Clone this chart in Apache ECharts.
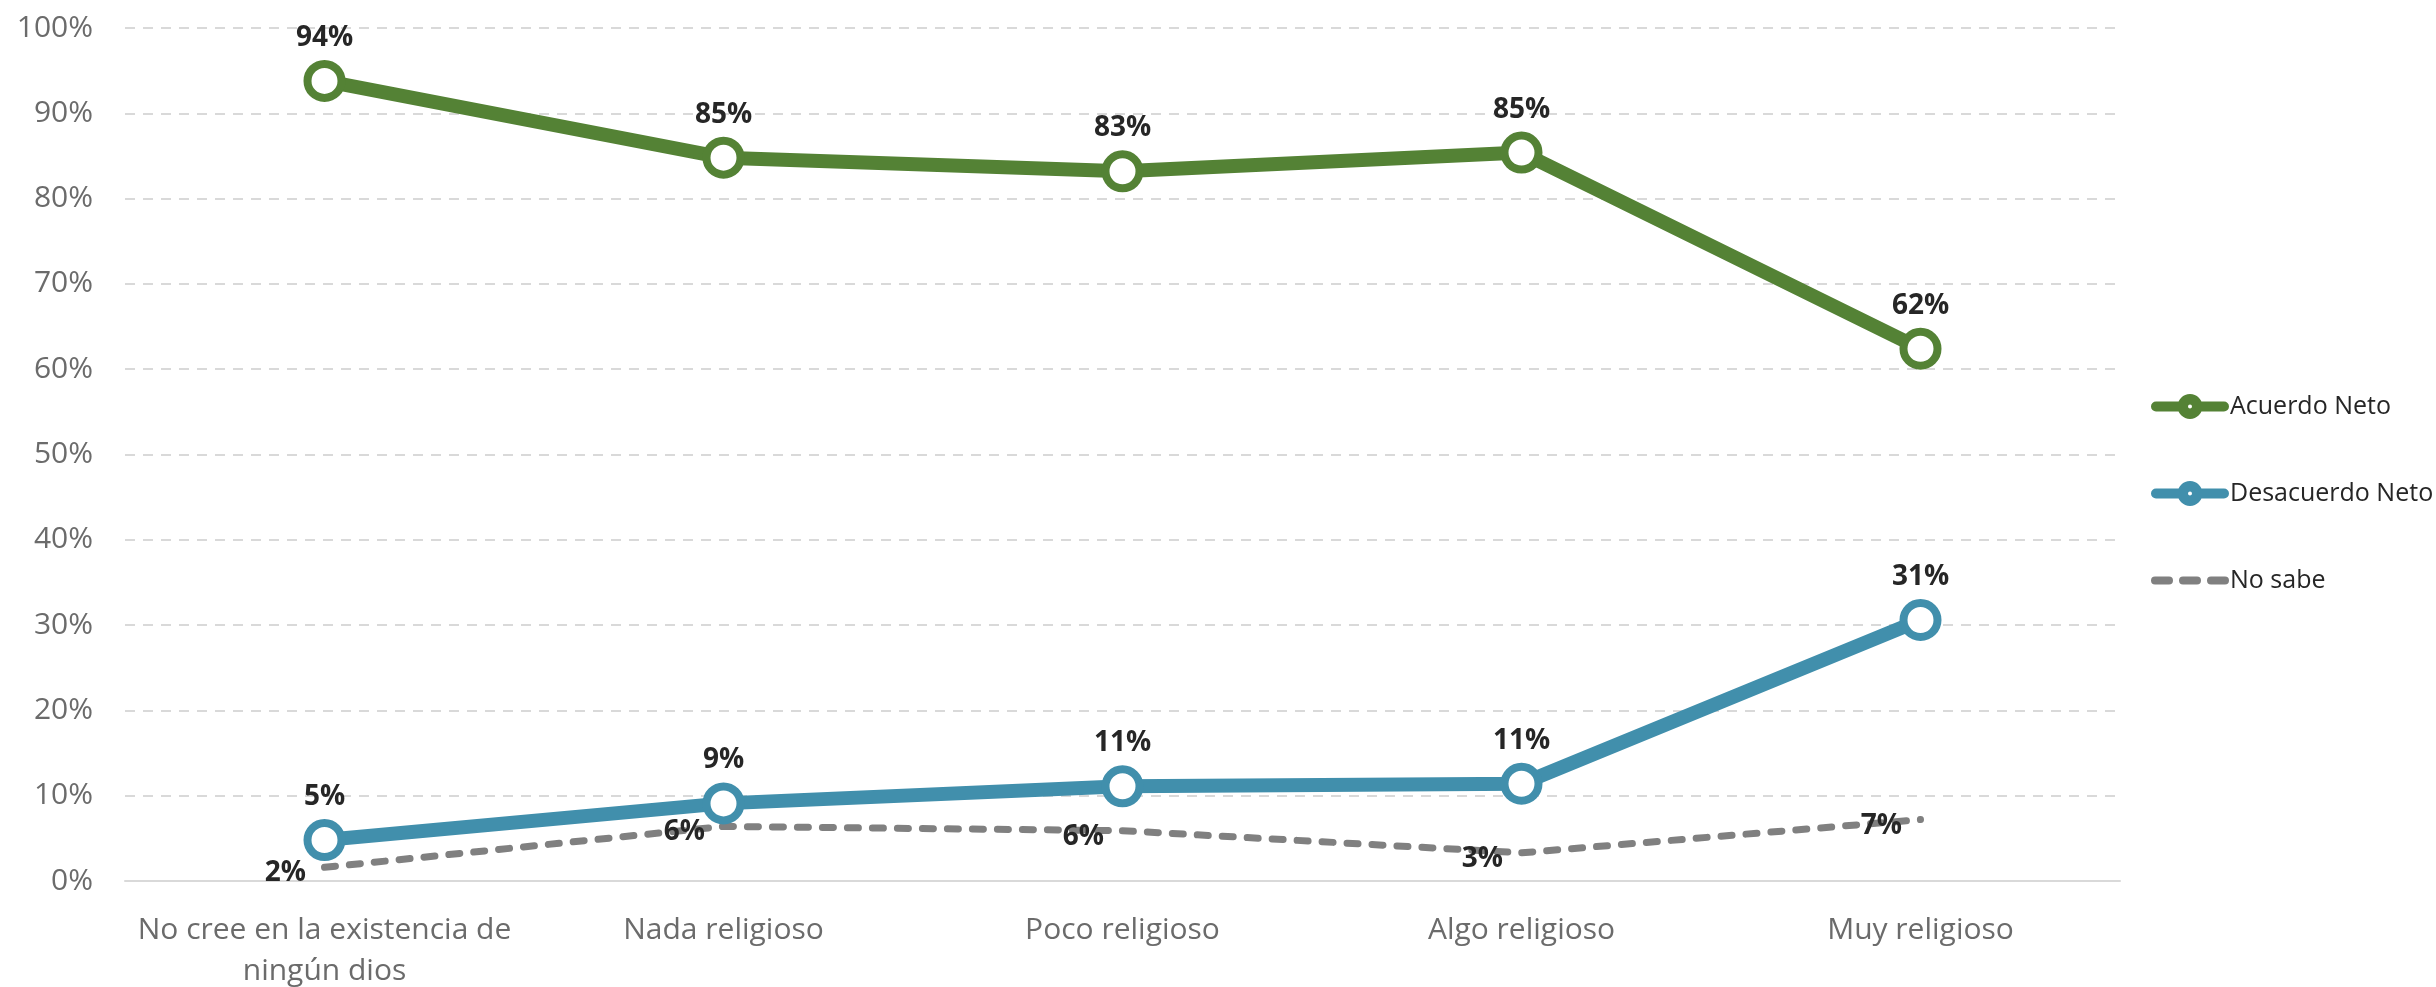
<!DOCTYPE html>
<html>
<head>
<meta charset="utf-8">
<script src="https://cdn.jsdelivr.net/npm/echarts@6/dist/echarts.min.js"></script>
<style>
html,body{margin:0;padding:0;background:#fff;}
#chart{width:2436px;height:987px;}
</style>
</head>
<body>
<div id="chart"></div>
<script>
const categories = ['No cree en la existencia de\nningún dios', 'Nada religioso', 'Poco religioso', 'Algo religioso', 'Muy religioso'];
const acuerdoNeto = [93.8, 84.8, 83.2, 85.4, 62.4];
const desacuerdoNeto = [4.8, 9.1, 11.1, 11.4, 30.6];
const noSabe = [1.6, 6.4, 5.9, 3.3, 7.2];
const yTicks = { min: 0, max: 100, interval: 10 };

const FONT = '"Open Sans", "Noto Sans", sans-serif';
const GREEN = '#548235';
const BLUE = '#418FAC';
const GREY = '#808080';

// legend icons (line with ringed marker; three dashes)
const ICON_LINE_MARKER = 'path://' +
  'M5,7.5 L30,7.5 L30,17.5 L5,17.5 A5,5 0 0,1 5,7.5 Z ' +
  'M48,7.5 L73,7.5 A5,5 0 0,1 73,17.5 L48,17.5 Z ' +
  'M26.5,12.5 A12.5,12.5 0 1,1 51.5,12.5 A12.5,12.5 0 1,1 26.5,12.5 Z ' +
  'M37,12.5 A2,2 0 1,0 41,12.5 A2,2 0 1,0 37,12.5 Z';
const ICON_DASHES = 'path://M4,0 L18,0 A4,4 0 0,1 18,8 L4,8 A4,4 0 0,1 4,0 Z ' +
  'M32,0 L46,0 A4,4 0 0,1 46,8 L32,8 A4,4 0 0,1 32,0 Z ' +
  'M60,0 L74,0 A4,4 0 0,1 74,8 L60,8 A4,4 0 0,1 60,0 Z';

const chart = echarts.init(document.getElementById('chart'));

function mainSeries(name, data, color) {
  return {
    name: name,
    type: 'line',
    data: data,
    symbol: 'circle',
    symbolSize: 34,
    lineStyle: { color: color, width: 14 },
    itemStyle: { color: '#ffffff', borderColor: color, borderWidth: 8 },
    label: {
      show: true, position: 'top', distance: 8,
      formatter: p => Math.round(p.value) + '%',
      fontFamily: FONT, fontSize: 28, fontWeight: 'bold', color: '#262626'
    },
    emphasis: { disabled: true },
    z: 3
  };
}

chart.setOption({
  animation: false,
  backgroundColor: '#ffffff',
  grid: { left: 125, right: 316, top: 28, bottom: 106, containLabel: false, outerBoundsMode: 'none' },
  legend: {
    orient: 'vertical',
    left: 2146,
    top: 389,
    itemWidth: 78,
    itemHeight: 25,
    itemGap: 62,
    textStyle: { fontFamily: FONT, fontSize: 25, color: '#262626', padding: [0, 0, 0, -4] },
    data: [
      { name: 'Acuerdo Neto', icon: ICON_LINE_MARKER, itemStyle: { color: GREEN, borderWidth: 0 } },
      { name: 'Desacuerdo Neto', icon: ICON_LINE_MARKER, itemStyle: { color: BLUE, borderWidth: 0 } },
      { name: 'No sabe', icon: ICON_DASHES, itemStyle: { color: GREY, borderWidth: 0, opacity: 1 } }
    ]
  },
  xAxis: {
    type: 'category',
    data: categories,
    boundaryGap: true,
    axisLine: { lineStyle: { color: '#D9D9D9', width: 2 } },
    axisTick: { show: false },
    axisLabel: { fontFamily: FONT, fontSize: 30, color: '#6B6B6B', margin: 29, lineHeight: 41, interval: 0 }
  },
  yAxis: {
    type: 'value',
    min: yTicks.min, max: yTicks.max, interval: yTicks.interval,
    axisLine: { show: false },
    axisTick: { show: false },
    axisLabel: { formatter: '{value}%', fontFamily: FONT, fontSize: 30, color: '#6B6B6B', margin: 32 },
    splitLine: { lineStyle: { color: '#D9D9D9', width: 2, type: [10, 8] } }
  },
  series: [
    mainSeries('Acuerdo Neto', acuerdoNeto, GREEN),
    mainSeries('Desacuerdo Neto', desacuerdoNeto, BLUE),
    {
      name: 'No sabe',
      type: 'line',
      data: noSabe,
      symbol: 'circle',
      symbolSize: 1,
      showSymbol: true,
      lineStyle: { color: GREY, width: 7, type: [11, 14], cap: 'round' },
      itemStyle: { color: 'rgba(0,0,0,0)' },
      label: {
        show: true, position: 'left', distance: 18, offset: [0, 6],
        formatter: p => Math.round(p.value) + '%',
        fontFamily: FONT, fontSize: 28, fontWeight: 'bold', color: '#262626'
      },
      emphasis: { disabled: true },
      z: 2
    }
  ]
});
</script>
</body>
</html>
